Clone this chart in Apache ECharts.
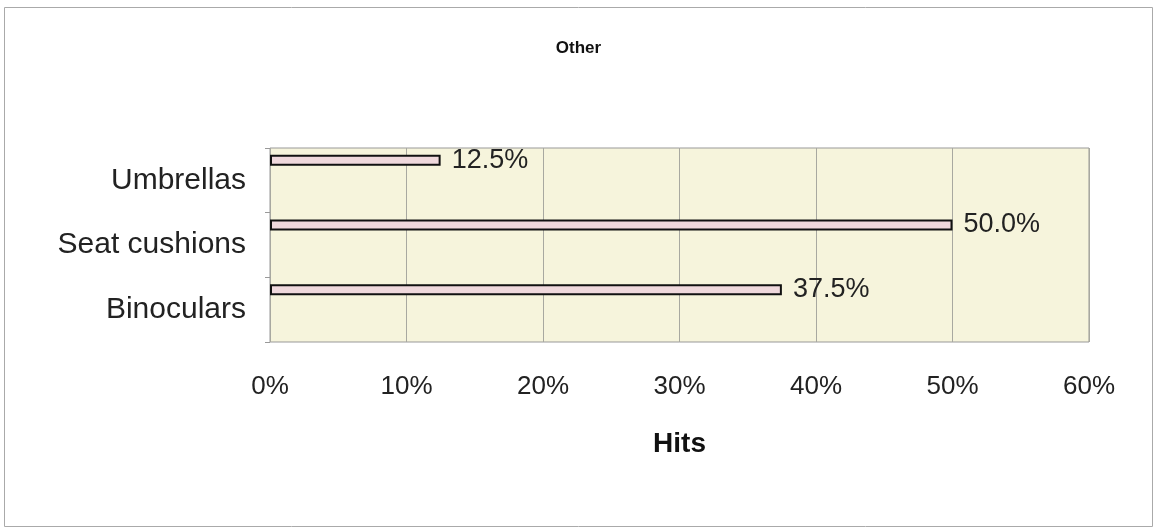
<!DOCTYPE html>
<html>
<head>
<meta charset="utf-8">
<script src="https://cdn.jsdelivr.net/npm/echarts@6/dist/echarts.min.js"></script>
<style>
  html, body { margin: 0; padding: 0; background: #fff; }
  #chart { width: 1157px; height: 530px; }
</style>
</head>
<body>
<div id="chart"></div>
<script>
var categories = ['Binoculars', 'Seat cushions', 'Umbrellas'];
var hits = [0.375, 0.5, 0.125];
var xTicks = [0, 0.1, 0.2, 0.3, 0.4, 0.5, 0.6];

var myChart = echarts.init(document.getElementById('chart'));

var option = {
    backgroundColor: '#ffffff',
    animation: false,
    title: {
        text: 'Other',
        left: 'center',
        top: 35,
        textStyle: { fontFamily: 'Liberation Sans, Arial', fontSize: 17, fontWeight: 'bold', color: '#111' }
    },
    graphic: [{
        type: 'rect',
        shape: { x: 4.5, y: 7.5, width: 1148, height: 519 },
        style: { fill: 'none', stroke: '#aaa', lineWidth: 1 },
        silent: true
    }],
    grid: {
        left: 270, top: 148, width: 819, height: 194,
        show: true,
        backgroundColor: '#f6f4dc',
        borderColor: '#999',
        borderWidth: 1
    },
    xAxis: {
        type: 'value',
        min: xTicks[0],
        max: xTicks[xTicks.length - 1],
        interval: 0.1,
        name: 'Hits',
        nameLocation: 'middle',
        nameGap: 88,
        nameTextStyle: { fontFamily: 'Liberation Sans, Arial', fontSize: 28, fontWeight: 'bold', color: '#111' },
        axisLine: { show: false },
        axisTick: { show: false },
        axisLabel: {
            margin: 32,
            fontFamily: 'Liberation Sans, Arial',
            fontSize: 26,
            color: '#222',
            formatter: function (v) { return Math.round(v * 100) + '%'; }
        },
        splitLine: { lineStyle: { color: '#a8a8a0', width: 1 } }
    },
    yAxis: {
        type: 'category',
        data: categories,
        axisLine: { show: false },
        axisTick: { show: true, length: 5, lineStyle: { color: '#999' } },
        axisLabel: {
            margin: 24,
            fontFamily: 'Liberation Sans, Arial',
            fontSize: 30,
            color: '#222'
        },
        splitLine: { show: false }
    },
    series: [
        {
            name: 'Hits',
            type: 'bar',
            data: hits,
            barWidth: 11,
            barGap: '0%',
            itemStyle: { color: '#efd8dc', borderColor: '#111', borderWidth: 2 },
            label: {
                show: true,
                position: 'right',
                distance: 11,
                fontFamily: 'Liberation Sans, Arial',
                fontSize: 27,
                color: '#222',
                formatter: function (p) { return (p.value * 100).toFixed(1) + '%'; }
            }
        },
        {
            name: 'spacer',
            type: 'bar',
            data: ['-', '-', '-'],
            barWidth: 40,
            silent: true
        }
    ]
};

myChart.setOption(option, true);
</script>
</body>
</html>
